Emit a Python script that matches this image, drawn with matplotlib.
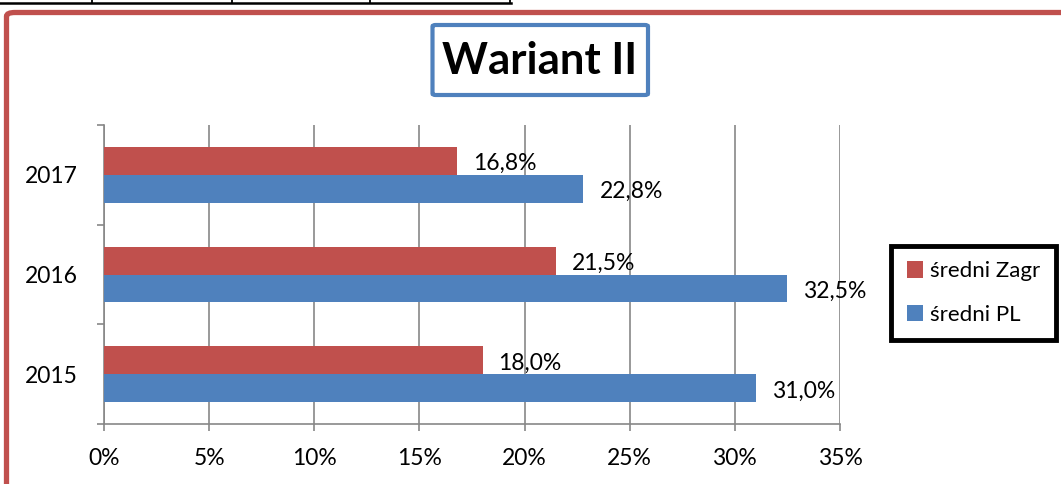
import matplotlib.pyplot as plt
import matplotlib.patches as mpatches
import numpy as np

plt.rcParams['font.family'] = ['Lato', 'DejaVu Sans']

years = ['2015', '2016', '2017']
sredni_zagr = [18.0, 21.5, 16.8]
sredni_pl = [31.0, 32.5, 22.8]
series_names = ['średni Zagr', 'średni PL']

RED = '#C0504D'
BLUE = '#4F81BD'
GRID = '#878787'

W, H = 1061, 484


def fx(x):
    return x / W


def fy(y):
    return 1 - y / H


fig = plt.figure(figsize=(W / 100, H / 100), dpi=100)

# bits of the table sitting above the chart
fig.add_artist(plt.Line2D([0, fx(511)], [fy(2.5), fy(2.5)], color='black', lw=1.8))
for xv in [92, 232, 370, 510]:
    fig.add_artist(plt.Line2D([fx(xv), fx(xv)], [1, fy(2.5)], color='black', lw=1.3))

# outer chart border (only left and top edges are in view)
fig.add_artist(mpatches.FancyBboxPatch((fx(6.5), fy(600)), fx(1200), fy(12.5) - fy(600),
                                       boxstyle='round,pad=0,rounding_size=0.008',
                                       transform=fig.transFigure, fill=False,
                                       ec=RED, lw=3.8, clip_on=False))

ax = fig.add_axes([fx(104), fy(424), fx(840) - fx(104), fy(125) - fy(424)])

y = np.arange(len(years))
h = 0.28
ax.barh(y + h / 2, sredni_zagr, height=h, color=RED, label=series_names[0], zorder=3)
ax.barh(y - h / 2, sredni_pl, height=h, color=BLUE, label=series_names[1], zorder=3)

for i in range(len(years)):
    for val, yy in [(sredni_zagr[i], y[i] + h / 2), (sredni_pl[i], y[i] - h / 2)]:
        ax.annotate(f'{val:.1f}%'.replace('.', ','), (val, yy),
                    xytext=(11.5, -2), textcoords='offset points',
                    ha='left', va='center', fontsize=16.5, zorder=4)

ax.set_xlim(0, 35)
ax.set_ylim(-0.5, 2.5)
ax.set_xticks(np.arange(0, 36, 5))
ax.set_xticklabels([f'{v}%' for v in range(0, 36, 5)])
ax.xaxis.grid(True, color=GRID, lw=1.2, zorder=0)
ax.tick_params(axis='x', length=5, width=1.2, color=GRID, pad=12, labelsize=16.5)

ax.set_yticks([-0.5, 0.5, 1.5, 2.5])
ax.set_yticklabels([])
ax.tick_params(axis='y', which='major', length=5, width=1.2, color=GRID)
ax.set_yticks(y, minor=True)
ax.set_yticklabels(years, minor=True)
ax.tick_params(axis='y', which='minor', length=0, pad=19, labelsize=16.5)

for s in ['top', 'right']:
    ax.spines[s].set_visible(False)
for s in ['left', 'bottom']:
    ax.spines[s].set_color(GRID)
    ax.spines[s].set_linewidth(1.2)

# title in its own framed box
fig.add_artist(mpatches.FancyBboxPatch((fx(432.5), fy(95)), fx(648) - fx(432.5), fy(25) - fy(95),
                                       boxstyle='round,pad=0,rounding_size=0.003',
                                       transform=fig.transFigure, fill=False,
                                       ec=BLUE, lw=3))
fig.text(fx(540), fy(61), 'Wariant II', ha='center', va='center',
         fontsize=31.5, fontweight='bold')

handles, labels = ax.get_legend_handles_labels()
leg = ax.legend(handles, labels, loc='center', bbox_to_anchor=(fx(973.5), fy(293)),
                bbox_transform=fig.transFigure, fontsize=16, frameon=True,
                fancybox=False, framealpha=1, handlelength=0.75, handleheight=0.75,
                handletextpad=0.3, labelspacing=1.05, borderpad=0.7)
leg.get_frame().set_edgecolor('black')
leg.get_frame().set_linewidth(3.5)

fig.savefig('out.png', dpi=100)
